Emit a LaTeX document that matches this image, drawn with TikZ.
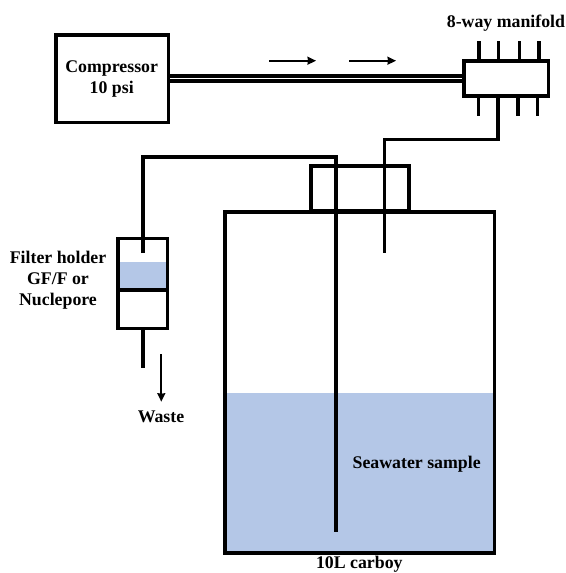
\documentclass[tikz,border=0pt]{standalone}
\usepackage{fontspec}
\setmainfont{Liberation Serif}
\usepackage{tikz}
\usetikzlibrary{arrows.meta,positioning,calc}
\definecolor{seawater}{HTML}{B4C7E7}

\begin{document}
\begin{tikzpicture}[x=1pt,y=-1pt]
	%defines
	\tikzstyle{equipment} = [rectangle, inner sep=0pt, outer sep=0pt, line width=3.7pt, text centered, draw=black]
	\tikzstyle{water} = [rectangle, inner sep=0pt, outer sep=0pt, fill=seawater]
	\tikzstyle{caption} = [inner sep=0pt, align=center, font=\fontsize{17.8}{21.2}\selectfont\bfseries]
	\tikzstyle{tube} = [line width=3.9pt]
	\tikzstyle{stub} = [line width=3.4pt]
	\tikzstyle{arrow} = [line width=1.7pt,->,>={Stealth[length=8.5pt,width=8pt,inset=0.5pt]}]
	\useasboundingbox (0,0) rectangle (565,573);
	%water
	\node (sampleWater) [water, minimum width=269.5pt, minimum height=160pt] at (359.75,473) {};
	\node (filterWater) [water, minimum width=49.5pt, minimum height=28pt] at (142.75,276) {};
	%chart
	\node (compressor) [equipment, minimum width=112.5pt, minimum height=87.5pt] at (112.25,78.75) {};
	\node (manifold) [equipment, minimum width=84.2pt, minimum height=34.7pt] at (506.4,78.35) {};
	\node (carboy) [equipment, minimum width=269.5pt, minimum height=341pt] at (359.75,382.5) {};
	\node (carboyCap) [equipment, minimum width=98pt, minimum height=45.5pt] at (360,188.5) {};
	\node (filterUpper) [equipment, minimum width=49.5pt, minimum height=51.7pt] at (142.75,264.2) {};
	\node (filterLower) [equipment, minimum width=49.5pt, minimum height=38.3pt] at (142.75,309.2) {};
	%tube ends
	\coordinate (stubTopA) at (479,41);
	\coordinate (stubTopB) at (498.3,41);
	\coordinate (stubTopC) at (519.3,41);
	\coordinate (stubTopD) at (539,41);
	\coordinate (stubBottomA) at (478.3,115.7);
	\coordinate (stubBottomC) at (518,115.7);
	\coordinate (stubBottomD) at (537.3,115.7);
	\coordinate (airCorner) at (498.3,139.5);
	\coordinate (airEnd) at (384.5,253);
	\coordinate (filterInlet) at (142.75,253);
	\coordinate (sampleCorner) at (142.75,157.3);
	\coordinate (sampleEnd) at (335.7,531.7);
	\coordinate (wasteEnd) at (142.75,367.7);
	\coordinate (flowStartA) at (269,60.7);
	\coordinate (flowEndA) at (316,60.7);
	\coordinate (flowStartB) at (349.3,60.7);
	\coordinate (flowEndB) at (396,60.7);
	\coordinate (wasteStart) at (161.3,354.3);
	\coordinate (wasteStop) at (161.3,401.7);
	%tubes
	\draw [tube] ([yshift=3.2pt]compressor.east) -- ([yshift=3.2pt]compressor.east -| manifold.west);
	\draw [tube] ([yshift=-2.2pt]compressor.east) -- ([yshift=-2.2pt]compressor.east -| manifold.west);
	\draw [stub] (stubTopA) -- (stubTopA |- manifold.north);
	\draw [stub] (stubTopB) -- (stubTopB |- manifold.north);
	\draw [stub] (stubTopC) -- (stubTopC |- manifold.north);
	\draw [stub] (stubTopD) -- (stubTopD |- manifold.north);
	\draw [stub] (stubBottomA) -- (stubBottomA |- manifold.south);
	\draw [stub] (stubBottomC) -- (stubBottomC |- manifold.south);
	\draw [stub] (stubBottomD) -- (stubBottomD |- manifold.south);
	\draw [tube] (airCorner |- manifold.south) -- (airCorner) -| (airEnd);
	\draw [tube] (filterInlet) -- (sampleCorner) -| (sampleEnd);
	\draw [tube] (filterLower.south) -- (wasteEnd);
	\draw [arrow] (flowStartA) -- (flowEndA);
	\draw [arrow] (flowStartB) -- (flowEndB);
	\draw [arrow] (wasteStart) -- (wasteStop);
	%labels
	\node (compressorLabel) [caption] at (111.7,79) {Compressor\\10 psi};
	\node (manifoldLabel) [caption] at (506,23.5) {8-way manifold};
	\node (filterLabel) [caption] at (58,280.5) {Filter holder\\GF/F or\\Nuclepore};
	\node (wasteLabel) [caption] at (161,417) {Waste};
	\node (sampleLabel) [caption] at (416.7,464.5) {Seawater sample};
	\node (carboyLabel) [caption] at (359.3,564) {10L carboy};
\end{tikzpicture}
\end{document}
